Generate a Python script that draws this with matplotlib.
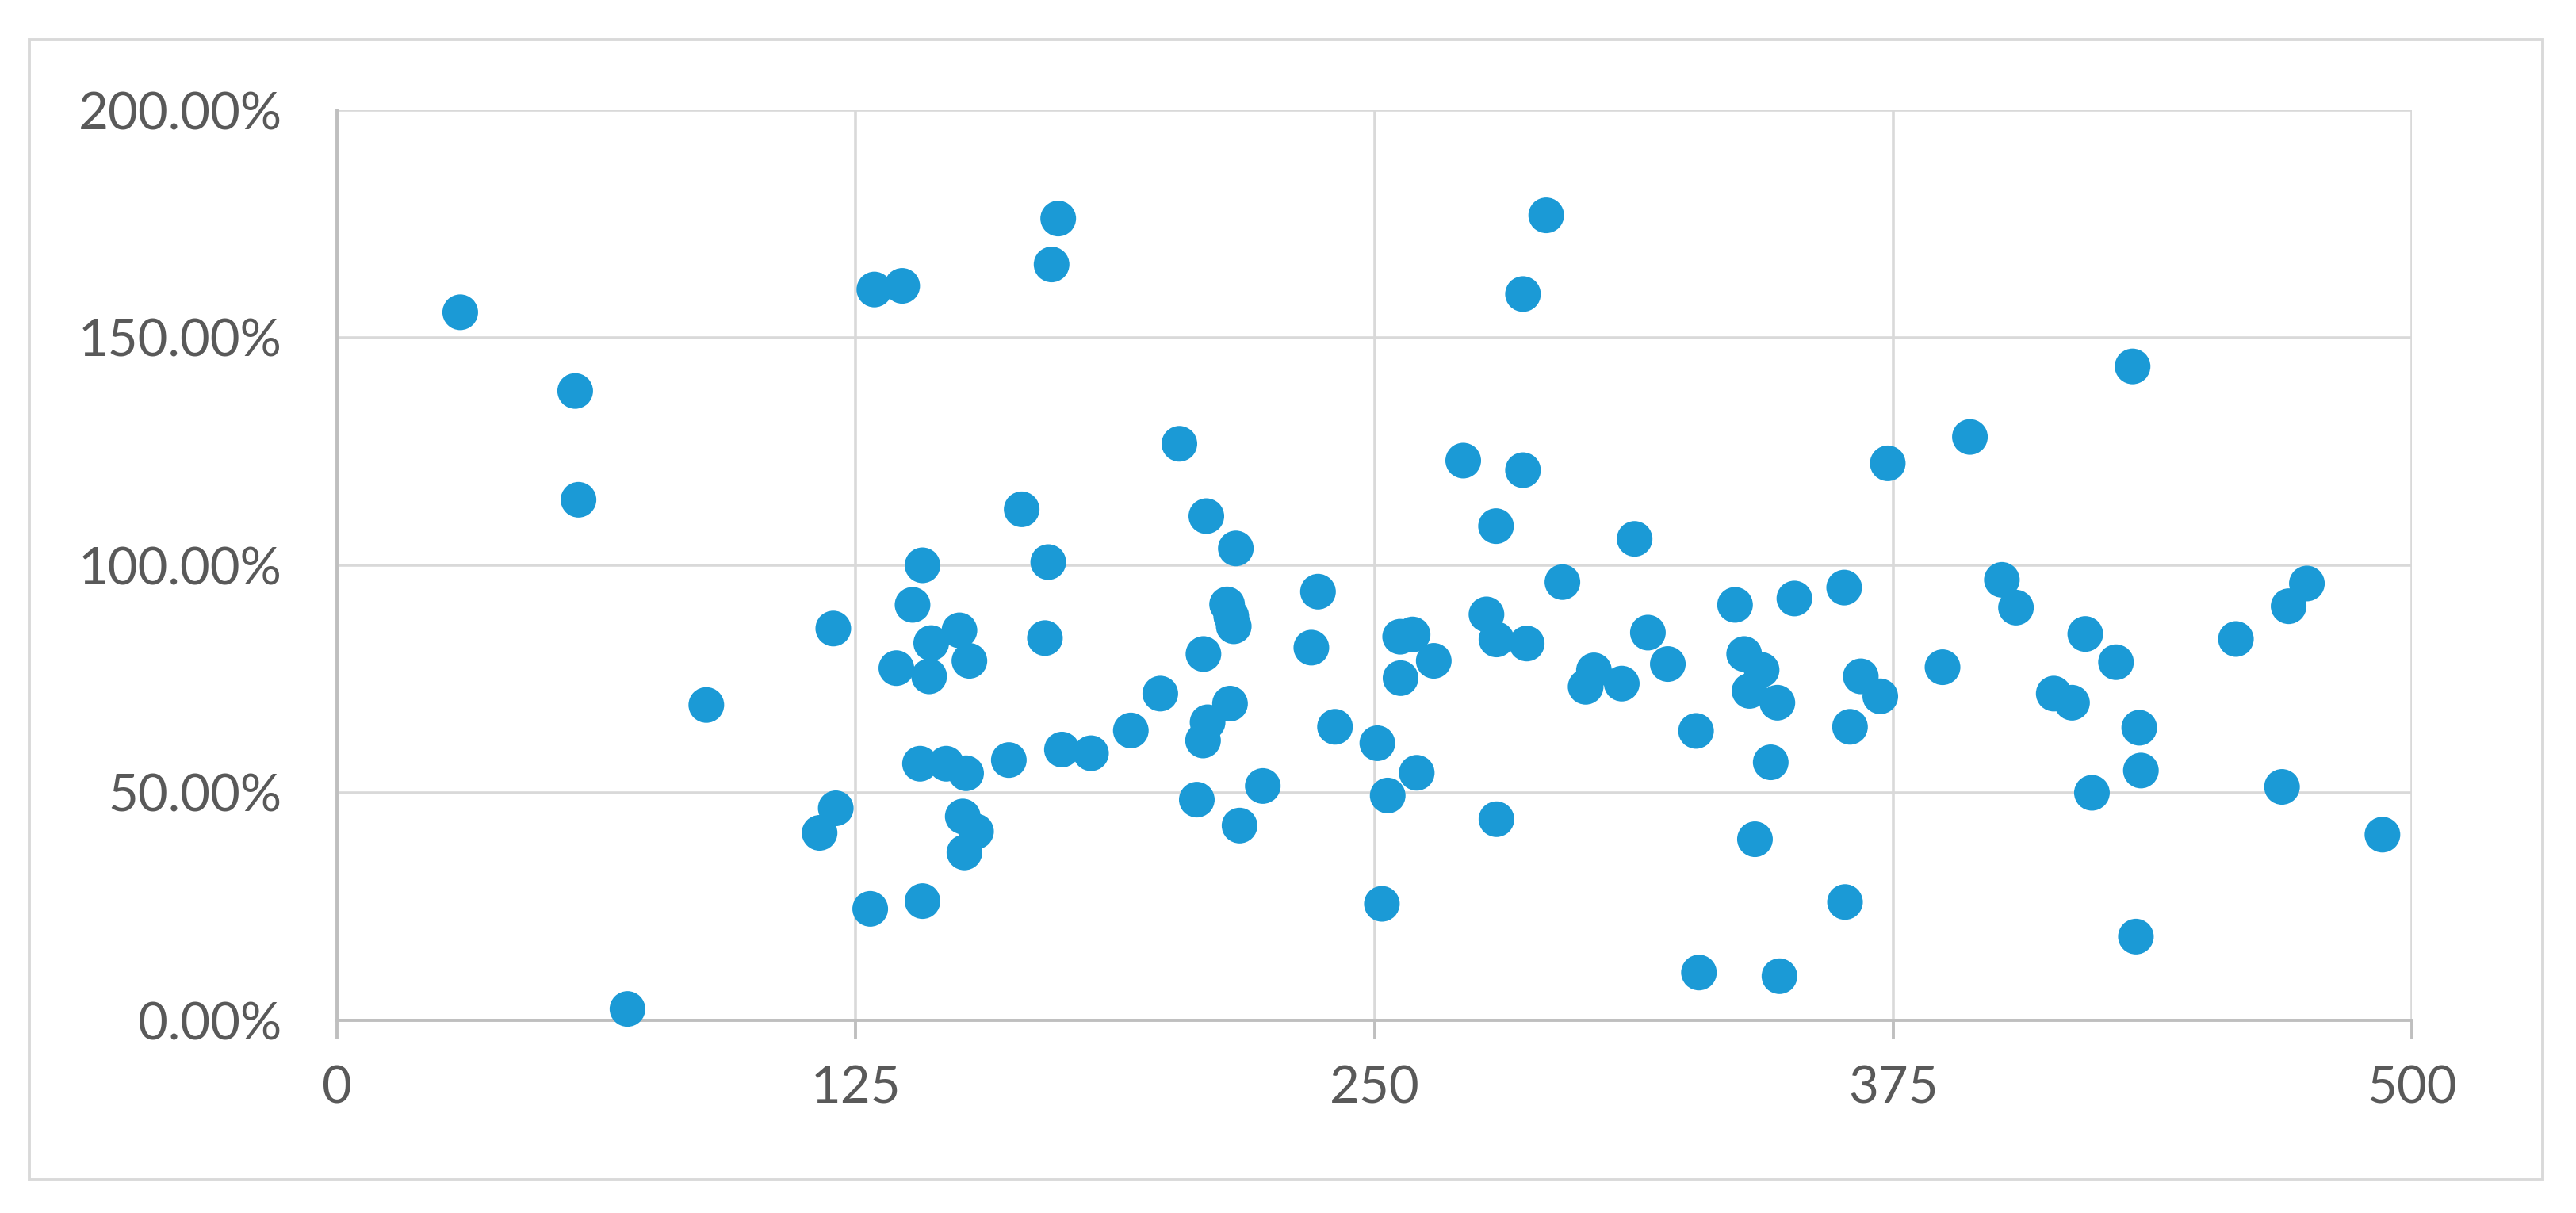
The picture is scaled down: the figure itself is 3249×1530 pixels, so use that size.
import matplotlib
matplotlib.use("Agg")
import matplotlib.pyplot as plt
from matplotlib.patches import Rectangle
from matplotlib.ticker import FuncFormatter

x_values = [29.7, 57.4, 58.2, 70.0, 89.0, 116.3, 119.6, 120.2, 128.5, 129.5,
            136.2, 134.8, 138.7, 140.5, 141.1, 141.1, 143.2, 142.7, 146.8, 150.0,
            150.8, 151.6, 151.2, 152.4, 154.0, 161.9, 165.0, 170.6, 171.4, 172.2,
            173.8, 174.7, 181.7, 191.3, 198.4, 203.0, 207.2, 208.8, 209.5, 208.7,
            209.8, 214.5, 215.2, 215.5, 216.1, 216.6, 217.5, 223.1, 234.8, 236.4,
            240.5, 250.7, 251.8, 253.2, 256.3, 256.2, 259.2, 260.2, 264.3, 271.4,
            277.0, 279.3, 279.4, 279.4, 285.8, 285.8, 286.7, 291.4, 295.3, 300.9,
            302.9, 309.6, 312.7, 315.9, 320.7, 327.5, 328.2, 336.9, 339.1, 340.4,
            341.7, 343.3, 347.1, 345.5, 347.6, 351.2, 363.2, 363.4, 364.6, 367.2,
            371.9, 373.7, 386.9, 393.5, 401.2, 404.6, 413.7, 418.1, 421.3, 422.9,
            428.7, 432.7, 434.3, 434.7, 433.5, 457.6, 468.7, 470.3, 474.7, 492.9]

y_percent = [155.6, 138.3, 114.4, 2.5, 69.3, 41.2, 86.1, 46.6, 24.5, 160.6,
             161.4, 77.4, 91.3, 56.4, 100.0, 26.2, 82.9, 75.6, 56.4, 85.7,
             44.8, 54.3, 36.9, 79.0, 41.5, 57.2, 112.3, 84.0, 100.7, 166.1,
             176.2, 59.5, 58.7, 63.7, 71.8, 126.7, 48.5, 80.5, 110.8, 61.5,
             65.5, 91.4, 69.6, 88.8, 86.6, 103.7, 42.8, 51.5, 81.9, 94.2,
             64.5, 60.9, 25.6, 49.4, 75.2, 84.3, 84.8, 54.4, 79.0, 123.0,
             89.2, 108.6, 83.7, 44.2, 159.6, 120.9, 82.8, 176.9, 96.3, 73.3,
             76.9, 74.0, 105.8, 85.2, 78.3, 63.6, 10.5, 91.3, 80.5, 72.4,
             39.8, 77.0, 69.8, 56.7, 9.7, 92.7, 95.1, 26.0, 64.5, 75.6,
             71.2, 122.4, 77.6, 128.2, 96.8, 90.7, 71.8, 69.8, 84.9, 50.0,
             78.7, 143.7, 64.3, 54.9, 18.4, 83.8, 51.3, 91.0, 96.0, 40.8]

x_ticks = [0, 125, 250, 375, 500]
y_ticks = [0, 50, 100, 150, 200]

W, H = 3249, 1530
fig = plt.figure(figsize=(W / 100, H / 100), dpi=100)
fig.patch.set_facecolor("white")

# outer chart frame
fig.patches.append(Rectangle((37 / W, 1 - 1488 / H), 3170 / W, 1438 / H,
                             transform=fig.transFigure, fill=False,
                             edgecolor="#d9d9d9", linewidth=2.8))

ax = fig.add_axes([425 / W, 1 - 1287 / H, (3042 - 425) / W, (1287 - 139) / H])
ax.set_xlim(0, 500)
ax.set_ylim(0, 200)
ax.set_xticks(x_ticks)
ax.set_yticks(y_ticks)
ax.yaxis.set_major_formatter(FuncFormatter(lambda v, p: f"{v:.2f}%"))

ax.grid(True, color="#d9d9d9", linewidth=2.6)
ax.set_axisbelow(True)
for side in ["top", "right"]:
    ax.spines[side].set_visible(False)
for side in ["left", "bottom"]:
    ax.spines[side].set_color("#bfbfbf")
    ax.spines[side].set_linewidth(2.8)

ax.tick_params(axis="x", direction="out", length=17, width=2.8, color="#bfbfbf",
               pad=24, labelsize=47, labelcolor="#595959")
ax.tick_params(axis="y", length=0, pad=50, labelsize=47, labelcolor="#595959")
for lab in ax.get_xticklabels() + ax.get_yticklabels():
    lab.set_fontfamily("Lato")

ax.scatter(x_values, y_percent, s=1050, color="#1b9ad6", edgecolors="none",
           zorder=3, clip_on=False)

fig.savefig("out.png", dpi=100, facecolor="white")
